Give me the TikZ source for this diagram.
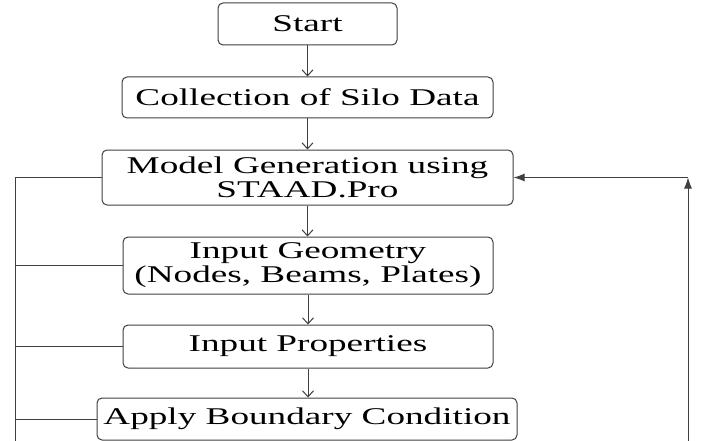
\documentclass[tikz,border=0pt]{standalone}
\usepackage{fontspec}
\setmainfont{Liberation Serif}[FakeStretch=1.55]
\usetikzlibrary{arrows.meta}
\tikzset{
  blok/.style={draw=black!75, line width=1pt, rounded corners=5pt, inner sep=0pt,
    align=center, font=\fontsize{24}{24}\selectfont},
  lijn/.style={draw=black!75, line width=1pt},
  neer/.style={lijn, -{Straight Barb[length=6pt, width=11pt]}},
  terug/.style={lijn, -{Latex[length=11pt, width=8pt]}},
}

\begin{document}
\begin{tikzpicture}[x=1pt, y=-1pt]
		%%%%% START %%%%%
		\useasboundingbox[fill=white] (0, 0) rectangle (706, 441);
		
		\node[blok, minimum width=179pt, minimum height=42pt] (start) at (307.5, 24) {Start};
		\node[blok, minimum width=371pt, minimum height=41pt] (silo) at (307.5, 97.5) {Collection of Silo Data};
		\node[blok, minimum width=411pt, minimum height=55pt] (model) at (307.5, 177.5) {Model Generation using\\STAAD.Pro};
		\node[blok, minimum width=370pt, minimum height=57pt] (geom) at (308, 265.5) {Input Geometry\\(Nodes, Beams, Plates)};
		\node[blok, minimum width=370pt, minimum height=43pt] (prop) at (308, 346.5) {Input Properties};
		\node[blok, minimum width=420pt, minimum height=42pt] (bound) at (307, 419) {Apply Boundary Condition};
		
		% flow down
		\draw[neer] (start) -- (silo);
		\draw[neer] (silo) -- (model);
		\draw[neer] (model.south) -- (model.south |- geom.north);
		\draw[neer] (geom.south) -- (prop.north);
		\draw[neer] (prop.south) -- (prop.south |- bound.north);
		
		% left rail
		\coordinate (lb) at (15, 441);
		\draw[lijn] (model.west) -| (lb);
		\draw[lijn] (geom.west) -- (geom.west -| lb);
		\draw[lijn] (prop.west) -- (prop.west -| lb);
		\draw[lijn] (bound.west) -- (bound.west -| lb);
		
		% right return
		\coordinate (rb) at (688, 441);
		\coordinate (rt) at (688, 177.5);
		\draw[terug] (rb) -- (rt);
		\draw[terug] (rt) -- (model.east);
		
		%%%%% END %%%%%
	\end{tikzpicture}
\end{document}
